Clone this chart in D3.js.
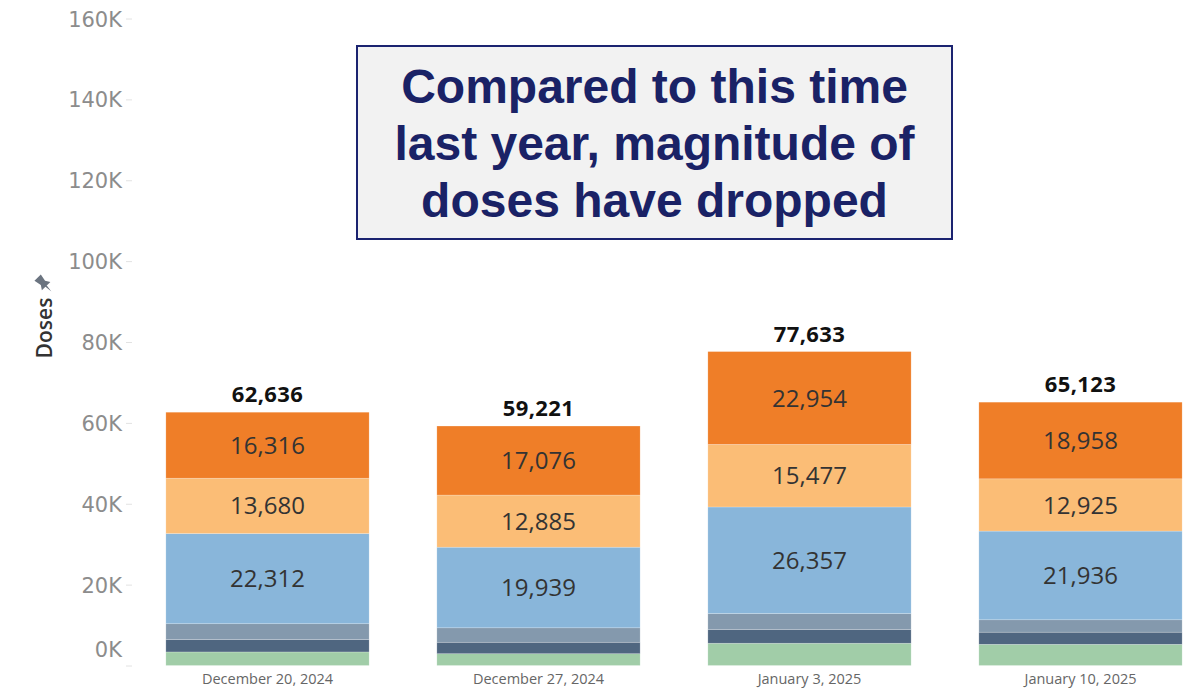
<!DOCTYPE html>
<html lang="en">
<head>
<meta charset="UTF-8">
<title>Doses by week</title>
<script src="https://cdnjs.cloudflare.com/ajax/libs/d3/7.8.5/d3.min.js"></script>
<style>
    body { margin: 0; background: #fff; font-family: "Open Sans", sans-serif; }
    svg { display: block; }
</style>
</head>
<body>
<div id="chart"></div>
<script>
    // data
    const weeks = ["December 20, 2024", "December 27, 2024", "January 3, 2025", "January 10, 2025"];
    const seriesKeys = ["green", "slate", "greyblue", "blue", "lightorange", "orange"];
    const green = [3350, 2920, 5510, 5240];
    const slate = [3050, 2830, 3405, 3000];
    const greyblue = [3928, 3571, 3930, 3064];
    const blue = [22312, 19939, 26357, 21936];
    const lightorange = [13680, 12885, 15477, 12925];
    const orange = [16316, 17076, 22954, 18958];
    const labelledKeys = ["blue", "lightorange", "orange"];
    const yTicks = [0, 20000, 40000, 60000, 80000, 100000, 120000, 140000, 160000];
    const titleLines = ["Compared to this time", "last year, magnitude of", "doses have dropped"];

    const colors = {
        green: "#a1cda8",
        slate: "#4f6680",
        greyblue: "#8499ad",
        blue: "#89b6da",
        lightorange: "#fbbd76",
        orange: "#ef7e28"
    };

    const rows = weeks.map((w, i) => ({
        week: w,
        green: green[i], slate: slate[i], greyblue: greyblue[i],
        blue: blue[i], lightorange: lightorange[i], orange: orange[i]
    }));

    const width = 1198, height = 692;
    const svg = d3.select("#chart").append("svg")
        .attr("width", width).attr("height", height);

    const x = d3.scaleBand().domain(weeks).range([132, 1216])
        .paddingInner(0.25).paddingOuter(0.125);
    const y = d3.scaleLinear().domain([0, 160000]).range([665.5, 18.5]);

    // y axis
    const yAxis = svg.append("g").attr("transform", "translate(132,0)")
        .call(d3.axisLeft(y).tickValues(yTicks).tickSize(6).tickPadding(4)
            .tickFormat(d => (d / 1000) + "K"));
    yAxis.select(".domain").remove();
    yAxis.selectAll(".tick line").attr("stroke", "#e2e2e2");
    yAxis.selectAll(".tick text")
        .attr("fill", "#8c8c8c")
        .style("font-family", "DejaVu Sans")
        .style("font-size", "21px")
        .attr("dy", d => d === 0 ? "-0.45em" : "0.36em");

    // y title with pin
    const yt = svg.append("g").attr("transform", "translate(52,328) rotate(-90)");
    yt.append("text")
        .attr("text-anchor", "middle")
        .attr("fill", "#333")
        .style("font-family", "Open Sans")
        .style("font-weight", 600)
        .style("font-size", "21px")
        .text("Doses");
    yt.append("path")
        .attr("transform", "translate(44,-8) rotate(45) scale(1.5)")
        .attr("d", "M-3,-6 L3,-6 L2,-1 L4,2 L-4,2 L-2,-1 Z M-0.6,2 L0.6,2 L0,7 Z")
        .attr("fill", "#6b7480");

    // stacked bars
    const stacked = d3.stack().keys(seriesKeys)(rows);
    const layers = svg.append("g").selectAll("g")
        .data(stacked).join("g")
        .attr("fill", d => colors[d.key]);

    layers.selectAll("rect")
        .data(d => d).join("rect")
        .attr("x", d => x(d.data.week))
        .attr("width", x.bandwidth())
        .attr("y", d => y(d[1]))
        .attr("height", d => y(d[0]) - y(d[1]))
        .attr("stroke", "rgba(255,255,255,0.35)")
        .attr("stroke-width", 0.6);

    // segment labels
    const fmt = d3.format(",");
    svg.append("g").selectAll("g")
        .data(stacked.filter(s => labelledKeys.includes(s.key))).join("g")
        .selectAll("text")
        .data(d => d).join("text")
        .attr("x", d => x(d.data.week) + x.bandwidth() / 2)
        .attr("y", d => (y(d[0]) + y(d[1])) / 2)
        .attr("dy", "0.36em")
        .attr("text-anchor", "middle")
        .attr("fill", "#333")
        .style("font-family", "Open Sans")
        .style("font-size", "24px")
        .text(d => fmt(d[1] - d[0]));

    // totals
    svg.append("g").selectAll("text")
        .data(rows).join("text")
        .attr("x", d => x(d.week) + x.bandwidth() / 2)
        .attr("y", d => y(d3.sum(seriesKeys, k => d[k])) - 10)
        .attr("text-anchor", "middle")
        .attr("fill", "#111")
        .style("font-family", "Open Sans")
        .style("font-weight", 700)
        .style("font-size", "22px")
        .style("letter-spacing", "0.4px")
        .text(d => fmt(d3.sum(seriesKeys, k => d[k])));

    // x labels
    svg.append("g").selectAll("text")
        .data(weeks).join("text")
        .attr("x", d => x(d) + x.bandwidth() / 2)
        .attr("y", 684)
        .attr("text-anchor", "middle")
        .attr("fill", "#666")
        .style("font-family", "Open Sans")
        .style("font-size", "14.5px")
        .text(d => d);

    // annotation box
    const box = svg.append("g");
    box.append("rect")
        .attr("x", 357).attr("y", 46).attr("width", 595).attr("height", 193)
        .attr("fill", "#f2f2f2").attr("stroke", "#1b2370").attr("stroke-width", 2);
    box.selectAll("text")
        .data(titleLines).join("text")
        .attr("x", 654.5)
        .attr("y", (d, i) => 103 + i * 57)
        .attr("text-anchor", "middle")
        .attr("fill", "#1a2266")
        .style("font-family", "Liberation Sans, Arial, sans-serif")
        .style("font-weight", 700)
        .style("font-size", "48px")
        .text(d => d);
</script>
</body>
</html>
